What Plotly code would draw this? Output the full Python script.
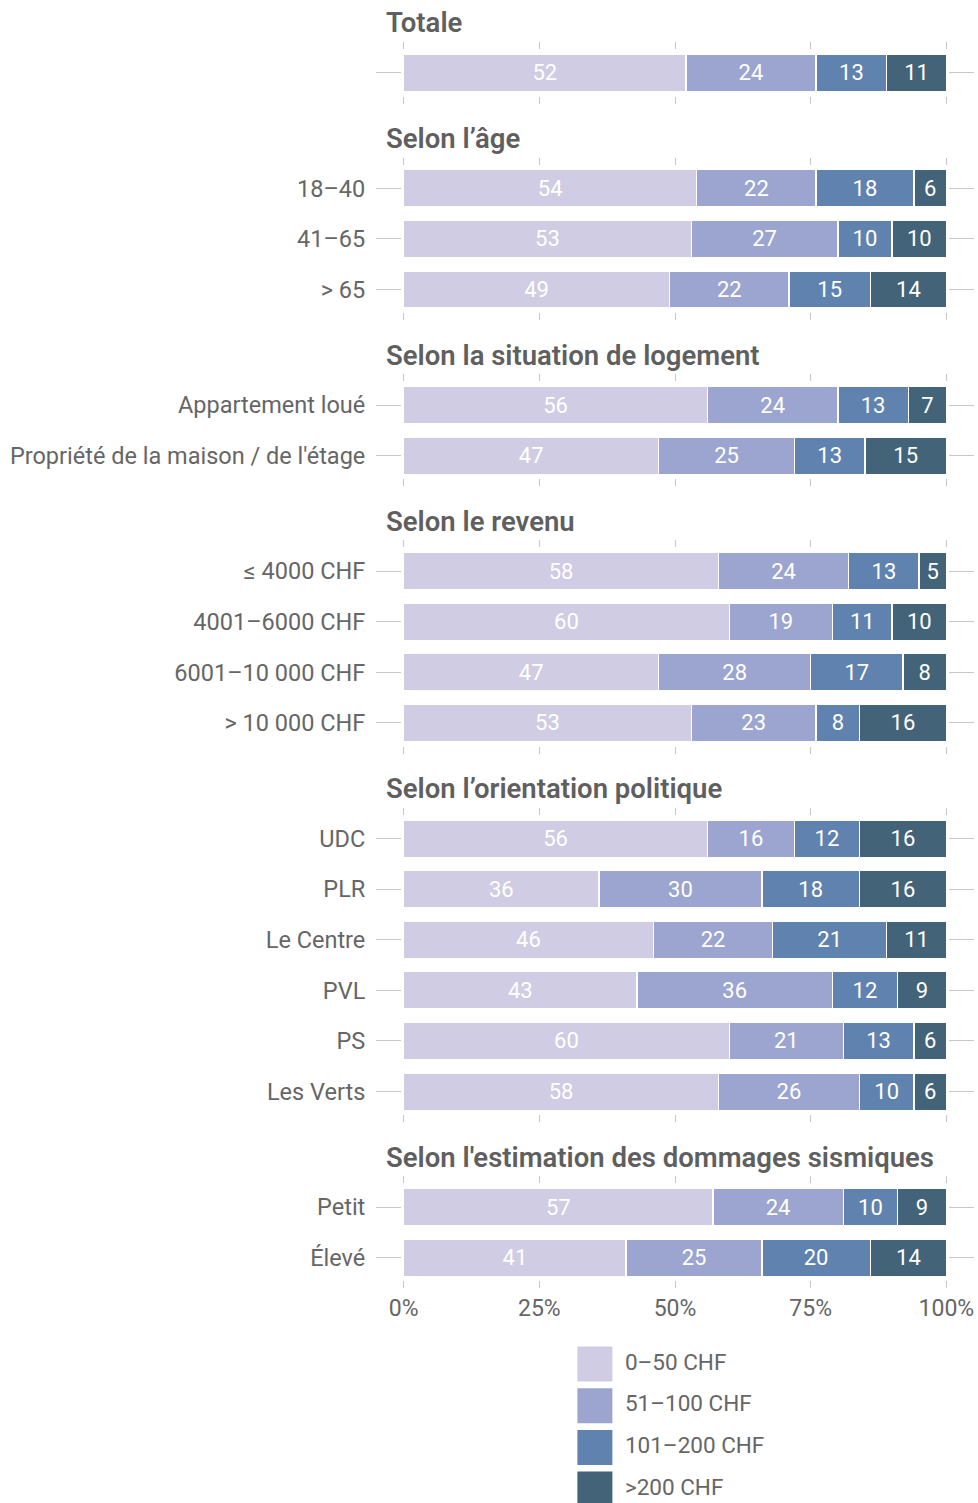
import plotly.graph_objects as go

# ---------------- data ----------------
group_titles = [
    "Totale",
    "Selon l’âge",
    "Selon la situation de logement",
    "Selon le revenu",
    "Selon l’orientation politique",
    "Selon l'estimation des dommages sismiques",
]
cat_totale = ["Totale"]
cat_age = ["18–40", "41–65", "> 65"]
cat_logement = ["Appartement loué", "Propriété de la maison / de l'étage"]
cat_revenu = ["≤ 4000 CHF", "4001–6000 CHF", "6001–10 000 CHF", "> 10 000 CHF"]
cat_politique = ["UDC", "PLR", "Le Centre", "PVL", "PS", "Les Verts"]
cat_sismique = ["Petit", "Élevé"]

series_names = ["0–50 CHF", "51–100 CHF", "101–200 CHF", ">200 CHF"]
colors = ["#cfcce3", "#9ca5cf", "#5f82ae", "#436378"]

# values per series (one list per series, aligned to categories)
val_totale = [[52], [24], [13], [11]]
val_age = [[54, 53, 49], [22, 27, 22], [18, 10, 15], [6, 10, 14]]
val_logement = [[56, 47], [24, 25], [13, 13], [7, 15]]
val_revenu = [[58, 60, 47, 53], [24, 19, 28, 23], [13, 11, 17, 8], [5, 10, 8, 16]]
val_politique = [[56, 36, 46, 43, 60, 58], [16, 30, 22, 36, 21, 26],
                 [12, 18, 21, 12, 13, 10], [16, 16, 11, 9, 6, 6]]
val_sismique = [[57, 41], [24, 25], [10, 20], [9, 14]]

x_ticks = [0, 25, 50, 75, 100]
x_ticktext = ["0%", "25%", "50%", "75%", "100%"]

groups = [
    (cat_totale, val_totale),
    (cat_age, val_age),
    (cat_logement, val_logement),
    (cat_revenu, val_revenu),
    (cat_politique, val_politique),
    (cat_sismique, val_sismique),
]

# ---------------- layout geometry (page pixels; body margin removed) ----------------
W, H = 978, 1503
XPAD = 0.3
SPAN = 542      # px for 0..100 %
X0 = 404        # px of 0 %
PLOTW = SPAN * (100 + 2 * XPAD) / 100
ML = X0 - SPAN * XPAD / 100
MR = W - ML - PLOTW
TOP = 50.0
U = 50.6        # px per row
PAD = 0.45      # category padding
GAP = 70.0      # px between panels
TICKC = "#c8c8c8"
TXT = "#666666"
FONT = "Roboto, Arial, sans-serif"


def py(px):
    return 1 - px / H


fig = go.Figure()
layout_axes = {}
annotations = []

y0 = TOP
for i, ((cats, vals), title) in enumerate(zip(groups, group_titles)):
    n = len(cats)
    h = (n - 1 + 2 * PAD) * U
    top, bot = y0, y0 + h
    k = "" if i == 0 else str(i + 1)
    xa, ya = "x" + k, "y" + k
    for s in range(4):
        fig.add_trace(go.Bar(
            x=vals[s], y=cats, orientation="h",
            xaxis=xa, yaxis=ya,
            marker=dict(color=colors[s], line=dict(color="white", width=1.5)),
            text=vals[s], texttemplate="%{text}",
            textposition="inside", insidetextanchor="middle",
            textangle=0, constraintext="none",
            textfont=dict(family=FONT, size=22, color="white"),
            name=series_names[s], showlegend=False,
        ))
    last = i == len(groups) - 1
    layout_axes["xaxis" + k] = dict(
        domain=[0, 1], anchor=ya, range=[-XPAD, 100 + XPAD],
        tickmode="array", tickvals=x_ticks, ticktext=x_ticktext,
        ticks="outside", ticklen=7, tickwidth=1.2, tickcolor=TICKC,
        mirror="ticks", showline=False, showgrid=False, zeroline=False,
        showticklabels=last,
        tickfont=dict(family=FONT, size=23, color=TXT),
        fixedrange=True,
    )
    layout_axes["yaxis" + k] = dict(
        domain=[py(bot), py(top)], anchor=xa,
        type="category", categoryorder="array", categoryarray=cats,
        range=[n - 1 + PAD, -PAD],
        ticks="outside", ticklen=25, tickwidth=1.2, tickcolor=TICKC,
        mirror="ticks", showline=False, showgrid=False, zeroline=False,
        showticklabels=(i != 0), ticklabelstandoff=6,
        tickfont=dict(family=FONT, size=23.5, color=TXT),
        fixedrange=True,
    )
    annotations.append(dict(
        text=title, xref="paper", yref="paper", x=0, xshift=-18,
        y=py(top - 27), xanchor="left", yanchor="middle", showarrow=False,
        font=dict(family=FONT, size=27.5, color="#5f5f5f", weight=600),
    ))
    y0 = bot + GAP

# ---------------- custom legend (large squares) ----------------
leg_first = 1364
leg_step = 41.7
leg_top, leg_bot = leg_first - 22, H
leg_idx = list(range(len(series_names)))
# legend x axis: 1 unit = 1 px, 0 at page x = 595
leg_dom0 = 0.3
leg_px0 = ML + leg_dom0 * PLOTW
leg_w = (1 - leg_dom0) * PLOTW
leg_x0 = 595 - leg_px0
fig.add_trace(go.Scatter(
    x=[0] * len(series_names), y=leg_idx, mode="markers",
    marker=dict(symbol="square", size=35, color=colors, line=dict(width=0)),
    xaxis="x7", yaxis="y7", showlegend=False, cliponaxis=False,
    hoverinfo="skip",
))
fig.add_trace(go.Scatter(
    x=[30] * len(series_names), y=leg_idx, mode="text",
    text=series_names, textposition="middle right",
    textfont=dict(family=FONT, size=22.5, color=TXT),
    xaxis="x7", yaxis="y7", showlegend=False, cliponaxis=False,
    hoverinfo="skip",
))
layout_axes["xaxis7"] = dict(domain=[leg_dom0, 1], anchor="y7",
                             range=[-leg_x0, leg_w - leg_x0],
                             visible=False, fixedrange=True)
layout_axes["yaxis7"] = dict(domain=[py(leg_bot), py(leg_top)], anchor="x7",
                             range=[(leg_bot - leg_first) / leg_step,
                                    -(leg_first - leg_top) / leg_step],
                             visible=False, fixedrange=True)

fig.update_layout(
    width=W, height=H,
    margin=dict(l=ML, r=MR, t=0, b=0),
    barmode="stack", bargap=0.26,
    plot_bgcolor="white", paper_bgcolor="white",
    font=dict(family=FONT, size=22, color=TXT),
    annotations=annotations,
    **layout_axes,
)

fig.write_html(
    "out.html",
    config={"displayModeBar": False},
    post_script="document.body.style.margin='0';document.body.style.overflow='hidden';",
)
